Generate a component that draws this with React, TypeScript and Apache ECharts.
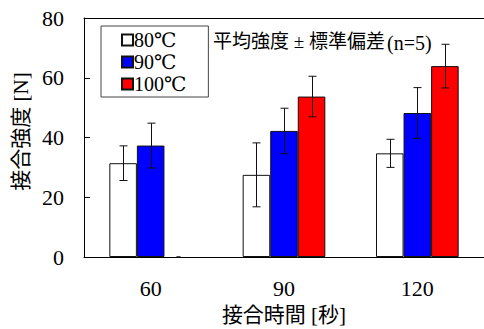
import React, { useEffect, useRef } from "react";
import * as echarts from "echarts";

const categories = ["60", "90", "120"];
const seriesNames = ["80℃", "90℃", "100℃"];
const colors = ["#ffffff", "#0000ff", "#ff0000"];
const means80 = [31.4, 27.5, 34.7];
const sd80 = [5.8, 10.7, 4.7];
const means90 = [37.3, 42.2, 48.2];
const sd90 = [7.5, 7.6, 8.5];
const means100 = [0, 53.7, 63.9];
const sd100 = [0, 6.8, 7.3];
const yTicks = { min: 0, max: 80, interval: 20 };
const annotationMain = "平均強度 ± 標準偏差";
const annotationN = "(n=5)";

const FONT = "'Liberation Serif', 'DejaVu Serif', 'Noto Sans CJK JP', serif";
const GAP = 0.38;

export default function App() {
  const ref = useRef<HTMLDivElement>(null);
  useEffect(() => {
    const chart = echarts.init(ref.current!, null, { renderer: "svg" });
    const means = [means80, means90, means100];
    const sds = [sd80, sd90, sd100];
    const barSeries = seriesNames.map((name, k) => ({
      name,
      type: "bar",
      barGap: "0%",
      barCategoryGap: "38%",
      data: means[k].map((v) => (v === 0 ? { value: v, itemStyle: { borderWidth: 0 } } : v)),
      itemStyle: { color: colors[k], borderColor: "#111", borderWidth: 1 },
    }));
    const errSeries = seriesNames.map((name, k) => ({
      name: name + "-err",
      type: "custom",
      z: 5,
      data: categories.map((_, i) => [i, means[k][i] - sds[k][i], means[k][i] + sds[k][i]]),
      renderItem: (params: any, api: any) => {
        const cat = api.value(0);
        const lo = api.coord([cat, api.value(1)]);
        const hi = api.coord([cat, api.value(2)]);
        const band = api.size([1, 0])[0];
        const bw = (band * (1 - GAP)) / 3;
        const x = Math.round(lo[0] + (k - 1) * bw) + 0.5;
        const c = hi[1] === lo[1] ? 2 : 4;
        const st = { stroke: "#111", lineWidth: 1 };
        return {
          type: "group",
          children: [
            { type: "line", shape: { x1: x, y1: lo[1], x2: x, y2: hi[1] }, style: st },
            { type: "line", shape: { x1: x - c, y1: hi[1], x2: x + c, y2: hi[1] }, style: st },
            { type: "line", shape: { x1: x - c, y1: lo[1], x2: x + c, y2: lo[1] }, style: st },
          ],
        };
      },
    }));
    chart.setOption({
      animation: false,
      textStyle: { fontFamily: FONT, color: "#000" },
      grid: { left: 84, right: 0, top: 18, bottom: 72, outerBoundsMode: "none", containLabel: false },
      legend: {
        data: seriesNames,
        orient: "vertical",
        left: 101,
        top: 26,
        itemWidth: 11,
        itemHeight: 11,
        itemGap: 2,
        icon: "rect",
        padding: [4, 22, 3, 20],
        borderColor: "#444",
        borderWidth: 1,
        backgroundColor: "#fff",
        textStyle: { fontFamily: FONT, fontSize: 20, color: "#000", padding: [0, 0, 0, -4] },
      },
      xAxis: [
        {
          type: "category",
          data: categories,
          name: "接合時間 [秒]",
          nameLocation: "middle",
          nameGap: 47,
          nameTextStyle: { fontFamily: FONT, fontSize: 21, color: "#000" },
          axisLine: { lineStyle: { color: "#000" } },
          axisTick: { inside: true, length: 6, lineStyle: { color: "#000" } },
          axisLabel: { fontFamily: FONT, fontSize: 22, color: "#000", margin: 20 },
        },
        {
          type: "category",
          data: categories,
          position: "top",
          axisLine: { show: true, lineStyle: { color: "#000" } },
          axisTick: { show: false },
          axisLabel: { show: false },
        },
      ],
      yAxis: {
        type: "value",
        min: yTicks.min,
        max: yTicks.max,
        interval: yTicks.interval,
        name: "接合強度 [N]",
        nameLocation: "middle",
        nameRotate: 90,
        nameGap: 52,
        nameTextStyle: { fontFamily: FONT, fontSize: 21, color: "#000", padding: [0, 0, 0, 12] },
        axisLine: { show: true, lineStyle: { color: "#000" } },
        axisTick: { show: true, inside: true, length: 6, lineStyle: { color: "#000" } },
        axisLabel: { fontFamily: FONT, fontSize: 22, color: "#000", margin: 20 },
        splitLine: { show: false },
      },
      graphic: [
        {
          type: "text",
          left: 213,
          top: 32,
          style: { text: annotationMain, fontFamily: FONT, fontSize: 19, fill: "#000" },
        },
        {
          type: "text",
          left: 387,
          top: 33,
          style: { text: annotationN, fontFamily: FONT, fontSize: 20, fill: "#000" },
        },
      ],
      series: [...barSeries, ...errSeries],
    });
    return () => chart.dispose();
  }, []);
  return <div ref={ref} style={{ width: 484, height: 329, position: "absolute", left: 0, top: 0 }} />;
}
